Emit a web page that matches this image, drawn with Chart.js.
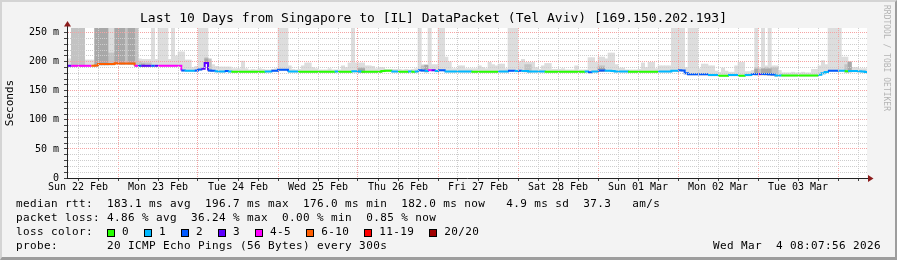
<!DOCTYPE html>
<html>
<head>
<meta charset="utf-8">
<title>Smokeping – Singapore to Tel Aviv</title>
<script src="https://cdn.jsdelivr.net/npm/chart.js@4.4.1/dist/chart.umd.min.js"></script>
<style>
  html, body { margin:0; padding:0; background:#f3f3f3; }
  #wrap { position:relative; width:897px; height:260px; background:#f3f3f3; overflow:hidden; }
  #c { position:absolute; left:0; top:0; }
  .frame { position:absolute; left:0; top:0; width:897px; height:260px; box-sizing:border-box;
           border-top:2px solid #d4d4d4; border-left:2px solid #d4d4d4;
           border-right:2px solid #9d9d9d; border-bottom:3px solid #9d9d9d; pointer-events:none; }
  .row { position:absolute; left:16px; height:14px; line-height:14px;
         font-family:'DejaVu Sans Mono', monospace; font-size:11px; letter-spacing:0.38px;
         white-space:pre; color:#000; }
  #r3 { display:flex; align-items:center; }
  .sw { flex:none; width:8px; height:8px; box-sizing:border-box; border:1px solid #000;
        margin-right:7px; position:relative; top:1px; }
  .lb { margin-right:15px; }
  #date { left:auto; right:16px; }
  #wm { position:absolute; left:881px; top:5px; writing-mode:vertical-rl;
        font-family:'DejaVu Sans Mono', monospace; font-size:8px; line-height:10px;
        color:#b4b4b4; white-space:pre; }
</style>
</head>
<body>
<div id="wrap">
  <canvas id="c" width="897" height="260"></canvas>
  <div class="row" id="r1" style="top:197px"></div>
  <div class="row" id="r2" style="top:211px"></div>
  <div class="row" id="r3" style="top:225px"></div>
  <div class="row" id="r4" style="top:239px"></div>
  <div class="row" id="date" style="top:239px"></div>
  <div id="wm"></div>
  <div class="frame"></div>
</div>
<script>
// ---------------- data ----------------
const TITLE = 'Last 10 Days from Singapore to [IL] DataPacket (Tel Aviv) [169.150.202.193]';
const Y_TITLE = 'Seconds';
const WATERMARK = 'RRDTOOL / TOBI OETIKER';

// time axis in hours since Sun 22 Feb 00:00; one value per hour bin starting at firstHour
const firstHour = 8;
const xMin = 8.7, xMax = 248.7;
const dayLabels = ['Sun 22 Feb','Mon 23 Feb','Tue 24 Feb','Wed 25 Feb','Thu 26 Feb',
                   'Fri 27 Feb','Sat 28 Feb','Sun 01 Mar','Mon 02 Mar','Tue 03 Mar'];
const yTickValues = [0,10,20,30,40,50,60,70,80,90,100,110,120,130,140,150,160,170,180,190,200,210,220,230,240,250];
const yMax = 258;

// median RTT (ms) per hour
const median = [
  193,193,193,193,193,193,193,193,193,193.5,196,196,196,196,196,197.5,
  197,197,197,197,197,193,193,193,193,193,193,193,193,193,193,193,193,193,193,185,184.5,184.5,184.5,185,
  186.5,188,198,185,184.5,183.5,183.3,183.3,184,183.3,182.8,182.8,182.8,182.8,182.8,182.8,182.8,182.8,182.8,182.8,183.3,183.3,184.3,184.5,
  186,186,186,183.3,183.3,183.3,182.8,182.8,182.8,182.8,182.8,182.8,182.8,182.8,182.8,182.8,182.8,183.3,182.8,182.8,182.8,182.8,183.5,183.5,
  183.3,182.8,182.8,182.8,182.8,182.8,182.8,184,184.5,184.5,183.3,183.3,182.8,182.8,182.8,183.3,182.8,183.3,185.5,185,184,185.5,185.5,184,
  185.5,185.5,183.3,183.3,183.3,183.3,183.3,183.3,183.3,183.3,182.8,182.8,182.8,182.8,182.8,182.8,182.8,182.8,183.3,183.3,183.3,184.5,184.5,184,
  184.5,184,184,183.3,183.3,183.3,183.3,183.3,182.8,182.8,182.8,182.8,182.8,182.8,182.8,182.8,182.8,182.8,182.8,182.8,183.3,182,183.3,183.3,
  185,185,184.5,184.5,184,183.3,183.3,183.3,183.3,182.8,182.8,182.8,182.8,182.8,182.8,182.8,182.8,182.8,183.3,183.3,183.3,183.3,184.5,184.5,
  185.5,185,180,178.3,178.3,178.3,178.3,178.3,178.3,177,177,177,176,176,176,177,177,177,176,176,177,177,178.8,178.8,
  178.8,178.8,178.8,178.5,178,176.5,176.5,176.2,176.2,176.2,176.2,176.2,176.2,176.2,176.2,176.2,176.2,176.2,177.5,180,182.5,184.5,184.5,184.5,
  184.5,184.5,183.5,184,184,184,183.5,183,182.5
];

// lost pings (of 20) per hour
const loss = [
  3,3,4,4,4,4,4,4,7,7,7,7,7,7,7,7,
  7,7,7,7,7,4,2,3,3,3,2,3,4,4,4,4,4,4,4,2,1,1,1,2,
  2,3,3,2,2,1,1,1,2,1,0,0,0,0,0,0,0,0,0,0,1,1,2,2,
  2,2,2,1,1,1,0,0,0,0,0,0,0,0,0,0,0,1,0,0,0,0,1,1,
  1,0,0,0,0,0,0,0,0,0,1,1,0,0,0,1,0,1,2,2,1,4,3,1,
  2,2,1,1,1,1,1,1,1,1,0,0,0,0,0,0,0,0,1,1,1,2,2,1,
  2,1,1,1,1,1,1,1,0,0,0,0,0,0,0,0,0,0,0,0,1,2,1,1,
  2,2,1,1,1,1,1,1,1,0,0,0,0,0,0,0,0,0,1,1,1,1,1,1,
  2,2,2,2,2,2,2,2,2,1,1,1,0,0,0,1,1,1,0,0,1,1,2,2,
  3,2,2,2,2,1,1,0,0,0,0,0,0,0,0,0,0,0,1,1,1,2,2,2,
  1,1,0,1,1,1,1,1,1
];

// smoke: highest ping (ms) per hour (light), and denser bands (mid / dark)
const smokeLight = [
  205,205,258,258,258,258,203,203,203,258,258,258,258,258,258,258,
  258,258,258,258,258,258,205,204,204,204,258,204,258,258,258,204,258,210,217,217,203,203,190,192,
  258,258,258,200,195,192,191,191,191,191,188,188,188,201,188,186,187,186,188,187,186,186,187,188,
  258,258,258,193,187,186,187,193,198,198,190,188,186,186,186,188,186,186,186,193,190,198,258,198,
  198,198,193,193,192,188,190,190,187,187,187,187,187,186,187,186,187,188,258,195,195,258,195,195,
  258,258,208,200,188,188,193,193,188,188,188,188,193,190,188,199,195,193,196,196,188,258,258,258,
  200,204,199,199,199,190,187,193,197,197,187,187,187,188,186,186,186,193,186,186,186,207,207,199,
  208,208,205,215,215,195,189,189,186,186,186,186,187,198,190,199,199,188,193,193,193,193,258,258,
  258,258,190,258,258,258,188,196,196,193,193,184,182,189,184,182,182,193,199,199,183,183,185,258,
  190,258,193,258,193,193,185,181,181,181,182,181,181,182,181,181,187,187,193,202,195,258,258,258,
  258,208,208,200,190,190,188,188,188
];
const _ = null;
const smokeMid = [
  _,_,258,258,258,258,_,_,_,_,_,_,_,215,215,_,
  _,_,258,_,_,258,200,198,198,198,_,_,_,_,_,_,_,_,_,_,_,_,_,_,
  _,_,207,205,_,_,_,_,_,_,_,_,_,_,_,_,_,_,_,_,_,_,_,_,
  _,_,_,_,_,_,_,_,_,_,_,_,_,_,_,_,_,_,_,_,_,_,_,_,
  190,190,_,_,_,_,_,_,_,_,_,_,_,_,_,_,_,_,_,193,192,_,_,_,
  _,_,_,_,_,_,_,_,_,_,_,_,_,_,_,_,_,_,_,_,_,_,_,_,
  _,_,195,195,_,_,_,_,_,_,_,_,_,_,_,_,_,_,_,_,_,_,_,_,
  193,193,_,_,_,_,_,_,_,_,_,_,_,_,_,_,_,_,_,_,_,_,_,_,
  _,_,_,_,_,_,_,_,_,_,_,_,_,_,_,_,_,_,_,_,_,_,_,190,
  187,_,190,_,190,190,_,_,_,_,_,_,_,_,_,_,_,_,_,_,_,_,_,_,
  _,_,195,200,_,_,_,_,_
];
const smokeDark = [
  _,_,_,_,_,_,_,_,_,258,258,258,258,_,_,258,
  258,258,_,258,258,_,_,196,_,_,_,_,_,_,_,_,_,_,_,_,_,_,_,_,
  _,_,205,_,_,_,_,_,_,_,_,_,_,_,_,_,_,_,_,_,_,_,_,_,
  _,_,_,_,_,_,_,_,_,_,_,_,_,_,_,_,_,_,_,_,_,_,_,_,
  188,188,_,_,_,_,_,_,_,_,_,_,_,_,_,_,_,_,_,_,194,_,_,_,
  _,_,_,_,_,_,_,_,_,_,_,_,_,_,_,_,_,_,_,_,_,_,_,_,
  _,_,_,_,_,_,_,_,_,_,_,_,_,_,_,_,_,_,_,_,_,_,_,_,
  190,190,_,_,_,_,_,_,_,_,_,_,_,_,_,_,_,_,_,_,_,_,_,_,
  _,_,_,_,_,_,_,_,_,_,_,_,_,_,_,_,_,_,_,_,_,_,_,187,
  _,188,187,188,_,_,_,_,_,_,_,_,_,_,_,_,_,_,_,_,_,_,_,_,
  _,_,_,199,_,_,_,_,_
];

const lossLabels = ['0','1','2','3','4-5','6-10','11-19','20/20'];
const lossColors = ['#26ff00','#00b8ff','#0059ff','#5e00ff','#ff00ff','#ff5e00','#ff0000','#a10000'];

const statsRtt  = 'median rtt:  183.1 ms avg  196.7 ms max  176.0 ms min  182.0 ms now   4.9 ms sd  37.3   am/s';
const statsLoss = 'packet loss: 4.86 % avg  36.24 % max  0.00 % min  0.85 % now';
const lossTitle = 'loss color:  ';
const probeText = 'probe:       20 ICMP Echo Pings (56 Bytes) every 300s';
const dateText  = 'Wed Mar  4 08:07:56 2026';

// ---------------- styles ----------------
const MONO = "'DejaVu Sans Mono', monospace";
const GRID_MINOR = '#cdcdcd';
const GRID_MAJOR = '#f4a3a3';
const SMOKE_LIGHT = '#dddddd', SMOKE_MID = '#c3c3c3', SMOKE_DARK = '#a8a8a8';

function lossIndex(n) {
  if (n <= 3) return n;
  if (n <= 5) return 4;
  if (n <= 10) return 5;
  if (n <= 19) return 6;
  return 7;
}

// ---------------- legend text ----------------
document.getElementById('r1').textContent = statsRtt;
document.getElementById('r2').textContent = statsLoss;
document.getElementById('r4').textContent = probeText;
document.getElementById('date').textContent = dateText;
document.getElementById('wm').textContent = WATERMARK;
const r3 = document.getElementById('r3');
const t3 = document.createElement('span'); t3.textContent = lossTitle; r3.appendChild(t3);
lossLabels.forEach((lab, i) => {
  const sw = document.createElement('span'); sw.className = 'sw'; sw.style.background = lossColors[i];
  const lb = document.createElement('span'); lb.className = 'lb'; lb.textContent = lab;
  r3.appendChild(sw); r3.appendChild(lb);
});

// ---------------- chart ----------------
const xs = median.map((v, i) => firstHour + i);
function barData(tops) {
  const out = [];
  tops.forEach((t, i) => { if (t !== null) out.push({x: xs[i] + 0.5, y: [median[i] - 1.5, t]}); });
  return out;
}
const lineData = xs.map((x, i) => ({x: x, y: median[i]}));
lineData.push({x: firstHour + median.length, y: median[median.length - 1]});

const xTicks = [];
for (let h = 12; h <= xMax; h += 6) xTicks.push(h);

const barCommon = { type: 'bar', borderWidth: 0, borderSkipped: false, barPercentage: 1,
                    categoryPercentage: 1, grouped: false };

const bgPlugin = {
  id: 'bg',
  beforeDraw(chart) {
    const {ctx, chartArea: a} = chart;
    ctx.save();
    ctx.fillStyle = '#ffffff';
    ctx.fillRect(a.left, a.top, a.right - a.left, a.bottom - a.top);
    ctx.restore();
  }
};
const arrowPlugin = {
  id: 'arrows',
  afterDraw(chart) {
    const {ctx, chartArea: a} = chart;
    const yb = Math.round(a.bottom) + 0.5;
    const xl = Math.round(a.left) + 0.5;
    ctx.save();
    ctx.strokeStyle = '#222'; ctx.lineWidth = 1;
    ctx.beginPath(); ctx.moveTo(a.right, yb); ctx.lineTo(a.right + 2, yb); ctx.stroke();
    ctx.beginPath(); ctx.moveTo(xl, a.top); ctx.lineTo(xl, a.top - 2); ctx.stroke();
    ctx.fillStyle = '#8c1c1c';
    ctx.beginPath();
    ctx.moveTo(a.right + 1, yb - 3.5); ctx.lineTo(a.right + 6.5, yb); ctx.lineTo(a.right + 1, yb + 3.5);
    ctx.closePath(); ctx.fill();
    ctx.beginPath();
    ctx.moveTo(xl - 3.5, a.top - 1.5); ctx.lineTo(xl, a.top - 7); ctx.lineTo(xl + 3.5, a.top - 1.5);
    ctx.closePath(); ctx.fill();
    ctx.restore();
  }
};

new Chart(document.getElementById('c'), {
  type: 'bar',
  data: {
    datasets: [
      Object.assign({}, barCommon, { data: barData(smokeLight), backgroundColor: SMOKE_LIGHT, order: 3 }),
      Object.assign({}, barCommon, { data: barData(smokeMid),   backgroundColor: SMOKE_MID,   order: 2 }),
      Object.assign({}, barCommon, { data: barData(smokeDark),  backgroundColor: SMOKE_DARK,  order: 1 }),
      {
        type: 'line', data: lineData, order: 0, borderWidth: 2, pointRadius: 0, stepped: true,
        borderColor: lossColors[0], fill: false, tension: 0, borderCapStyle: 'butt',
        segment: { borderColor: c => lossColors[lossIndex(loss[c.p0DataIndex])] }
      }
    ]
  },
  options: {
    responsive: false,
    animation: false,
    devicePixelRatio: 1,
    layout: { padding: { left: 0, right: 30, top: 0, bottom: 0 } },
    plugins: {
      legend: { display: false },
      tooltip: { enabled: false },
      title: {
        display: true, text: TITLE, color: '#000',
        font: { family: MONO, size: 13, weight: 'normal' },
        padding: { top: 11, bottom: 1.4 }
      }
    },
    scales: {
      x: {
        type: 'linear', min: xMin, max: xMax, offset: false,
        afterBuildTicks: s => { s.ticks = xTicks.map(v => ({ value: v })); },
        afterFit: s => { s.height = 82; },
        grid: {
          offset: false, z: 1, lineWidth: 1, drawTicks: true, tickLength: 3, tickColor: '#444',
          color: c => (c.tick && c.tick.value % 24 === 0) ? GRID_MAJOR : GRID_MINOR
        },
        border: { display: true, color: '#222', width: 1, dash: [1, 1], z: 2 },
        ticks: {
          autoSkip: false, maxRotation: 0, minRotation: 0, padding: 0, color: '#000',
          font: { family: MONO, size: 10 },
          callback: v => ((v - 12) % 24 === 0) ? dayLabels[(v - 12) / 24] : ''
        }
      },
      y: {
        type: 'linear', min: 0, max: yMax, offset: false,
        afterBuildTicks: s => { s.ticks = yTickValues.map(v => ({ value: v })); },
        afterFit: s => { s.width = 67; },
        grid: {
          offset: false, z: 1, lineWidth: 1, drawTicks: true, tickLength: 3, tickColor: '#444',
          color: c => (c.tick && c.tick.value % 50 === 0) ? GRID_MAJOR : GRID_MINOR
        },
        border: { display: true, color: '#222', width: 1, dash: [1, 1], z: 2 },
        ticks: {
          autoSkip: false, padding: 5, color: '#000',
          font: { family: MONO, size: 10 },
          callback: v => (v % 50 === 0) ? (v === 0 ? '0' : v + ' m') : ''
        },
        title: {
          display: true, text: Y_TITLE, color: '#000',
          font: { family: MONO, size: 11 }, padding: { top: 3.4, bottom: 0 }
        }
      }
    }
  },
  plugins: [bgPlugin, arrowPlugin]
});
</script>
</body>
</html>
